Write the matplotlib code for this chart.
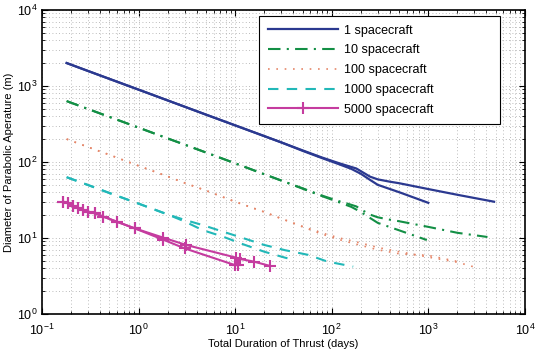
import numpy as np
import matplotlib
matplotlib.use('Agg')
import matplotlib.pyplot as plt

plt.rcParams['font.family'] = ['Liberation Sans', 'DejaVu Sans']

# 1 spacecraft (two branches)
t1_up = [0.18, 0.3, 0.5, 1, 2, 3, 5, 10, 20, 30, 50, 80, 120, 150, 180, 210, 250, 300, 400, 500, 1000, 2000, 4800]
d1_up = [2000, 1572, 1237, 894, 645, 533, 419, 303, 219, 181, 142, 114, 96, 88, 82, 73, 64, 59, 55, 52.5, 44, 37, 30]
t1_lo = [0.18, 0.3, 0.5, 1, 2, 3, 5, 10, 20, 30, 50, 80, 120, 160, 200, 250, 300, 500, 1000]
d1_lo = [2000, 1572, 1237, 894, 645, 533, 419, 303, 219, 181, 140, 112, 93, 81, 70, 58, 50, 40, 29]

# 10 spacecraft
t10_up = [0.18, 0.3, 0.5, 1, 2, 3, 5, 10, 20, 30, 50, 80, 120, 150, 180, 210, 250, 300, 400, 500, 1000, 2000, 4100]
d10_up = [632, 497, 391, 283, 204, 169, 133, 96, 69, 57, 45, 36, 30.4, 28, 26, 23, 20.3, 18.7, 17.4, 16.6, 14, 11.7, 10.3]
t10_lo = [0.18, 0.3, 0.5, 1, 2, 3, 5, 10, 20, 30, 50, 80, 120, 160, 200, 250, 300, 500, 966]
d10_lo = [632, 497, 391, 283, 204, 169, 133, 96, 69, 57, 44.5, 35.4, 29.4, 25.6, 22, 18.3, 15.8, 12.6, 9.4]

# 100 spacecraft
t100_a = [0.18, 0.3, 0.5, 1, 2, 3, 5, 10, 20, 30, 50, 80, 120, 200, 300, 500, 1000, 2000, 2900]
d100_a = [200, 157, 124, 89, 64.5, 53, 42, 30, 22, 18, 14.2, 11.6, 10, 8.6, 7.5, 6.6, 5.6, 4.8, 4.2]
t100_b = [0.18, 0.3, 0.5, 1, 2, 3, 5, 10, 20, 30, 50, 80, 120, 200, 300, 500, 1000, 2020]
d100_b = [200, 157, 124, 89, 64.5, 53, 42, 30, 22, 18, 14, 11.2, 9.5, 8, 7, 6.2, 5.9, 4.9]

# 1000 spacecraft
t1000_up = [0.18, 0.3, 0.5, 1, 2, 3, 4.6, 7.5, 12, 20, 33, 57, 90, 167]
d1000_up = [63, 49.7, 39, 28.3, 20.4, 17.3, 14.8, 12.1, 10, 8.1, 6.9, 6, 4.9, 4.2]
t1000_lo = [0.18, 0.3, 0.5, 1, 2, 3, 4.6, 7.5, 12, 20, 33, 40]
d1000_lo = [63, 49.7, 39, 28.3, 20.4, 16.5, 12.7, 10.4, 8.3, 6.6, 5.5, 5.2]

# 5000 spacecraft
t5000_up = [0.166, 0.187, 0.211, 0.237, 0.268, 0.301, 0.354, 0.431, 0.593, 0.91, 1.8, 3.1, 10.3, 11.2, 15.5, 22.8]
d5000_up = [30, 28.6, 26.4, 24.5, 23.4, 22.2, 21.1, 19.1, 16.4, 13.4, 10.1, 8.1, 5.5, 5.3, 4.9, 4.3]
t5000_lo = [0.166, 0.187, 0.211, 0.237, 0.268, 0.301, 0.354, 0.431, 0.593, 0.91, 1.8, 3.0, 9.95, 10.7]
d5000_lo = [30, 28.6, 26.4, 24.5, 23.4, 22.2, 21.1, 19.1, 16.4, 13.4, 9.5, 7.3, 4.4, 4.4]

blue = '#2b3990'
green = '#138f45'
orange = '#e5876a'
cyan = '#22b8b8'
magenta = '#c53c9f'

fig = plt.figure(figsize=(5.35, 3.54), dpi=100)
ax = fig.add_axes([0.0785, 0.113, 0.9025, 0.859])

ax.loglog(t1_up, d1_up, color=blue, lw=1.6, label='1 spacecraft')
ax.loglog(t1_lo, d1_lo, color=blue, lw=1.6)
ax.loglog(t10_up, d10_up, color=green, lw=1.5, linestyle=(0, (6, 3, 1, 3)), label='10 spacecraft')
ax.loglog(t10_lo, d10_lo, color=green, lw=1.5, linestyle=(0, (6, 3, 1, 3)))
ax.loglog(t100_a, d100_a, color=orange, lw=1.2, linestyle=(0, (1, 4)), label='100 spacecraft')
ax.loglog(t100_b, d100_b, color=orange, lw=1.2, linestyle=(0, (1, 4)))
ax.loglog(t1000_up, d1000_up, color=cyan, lw=1.5, linestyle=(0, (5, 4)), label='1000 spacecraft')
ax.loglog(t1000_lo, d1000_lo, color=cyan, lw=1.5, linestyle=(0, (5, 4)))
ax.loglog(t5000_up, d5000_up, color=magenta, lw=1.5, marker='+', ms=8, mew=1.5, label='5000 spacecraft')
ax.loglog(t5000_lo, d5000_lo, color=magenta, lw=1.5, marker='+', ms=8, mew=1.5)

ax.set_xlim(0.1, 1e4)
ax.set_ylim(1, 1e4)
ax.grid(True, which='both', linestyle=(0, (1, 3)), color='0.65', linewidth=0.6)
ax.tick_params(which='both', direction='in', top=True, right=True, labelsize=9)
ax.tick_params(axis='x', which='major', pad=6)
ax.tick_params(which='major', length=4)
ax.tick_params(which='minor', length=2)
for s in ax.spines.values():
    s.set_linewidth(1.2)

ax.set_xlabel('Total Duration of Thrust (days)', fontsize=8, labelpad=1)
ax.set_ylabel('Diameter of Parabolic Aperature (m)', fontsize=8, labelpad=2)

leg = ax.legend(loc='upper left', bbox_to_anchor=(0.449, 0.633, 0.499, 0.347), mode='expand',
                fontsize=9, handlelength=5.6, handletextpad=0.55, labelspacing=0.62,
                fancybox=False, edgecolor='black', framealpha=1, borderpad=0.7,
                borderaxespad=0)
leg.get_frame().set_linewidth(0.8)

fig.savefig('out.png', dpi=100)
